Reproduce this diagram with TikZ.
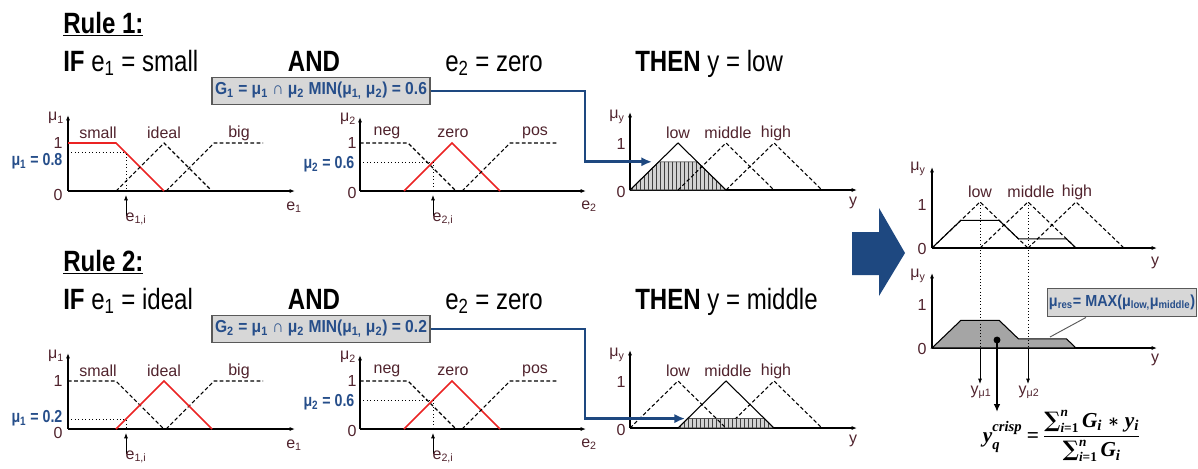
\documentclass[tikz,border=0pt]{standalone}
\usepackage[no-math]{fontspec}
\setmainfont{Liberation Sans}
\newfontfamily\narrowsf{Liberation Sans}[FakeStretch=0.82]
\newfontfamily\boxsf{Liberation Sans}[FakeStretch=0.9]
\newfontfamily\eqfont{Liberation Serif}
\newfontfamily\symfont{DejaVu Serif}
\usetikzlibrary{arrows.meta,patterns}
\definecolor{rulered}{RGB}{235,35,35}
\definecolor{inkblue}{RGB}{38,78,138}
\definecolor{arrowblue}{RGB}{30,72,128}
\definecolor{termcol}{RGB}{80,35,45}
\definecolor{boxgray}{RGB}{215,215,215}
\definecolor{resgray}{RGB}{165,165,165}
\newcommand{\sumlim}{{\symfont\bfseries ∑}\rlap{\raisebox{1.05ex}{\fontsize{10}{10}\selectfont\itshape n}}\raisebox{-0.55ex}{\fontsize{10}{10}\selectfont\itshape i\upshape =1}}
\tikzset{
  axisline/.style={line width=0.8pt,-{Latex[length=4pt,width=3pt]}},
  mf/.style={line width=0.8pt,dash pattern=on 2.8pt off 1.8pt},
  act/.style={rulered,line width=1.2pt},
  guide/.style={dotted,line width=0.6pt},
  lbl/.style={termcol,inner sep=1pt,font=\fontsize{12}{14}\selectfont},
  valtxt/.style={inkblue,inner sep=1pt,anchor=east,font=\narrowsf\bfseries\fontsize{13}{15}\selectfont},
  gbox/.style={draw=black!65,fill=boxgray,line width=0.9pt,inner sep=1pt,text=inkblue,font=\boxsf\bfseries\fontsize{13}{15}\selectfont},
  flow/.style={arrowblue,line width=2pt,-{Latex[length=8pt,width=7pt]}},
  ruletext/.style={anchor=base west,inner sep=0pt,font=\narrowsf\fontsize{22}{26}\selectfont},
  pointer/.style={line width=0.6pt,-{Latex[length=4pt,width=3pt]}},
}
\begin{document}
\begin{tikzpicture}[x=0.75pt,y=-0.75pt]
\useasboundingbox (0,0) rectangle (1198,468);
% parts that both rules share
\foreach \r/\dy in {1/0,2/238}{
\begin{scope}[shift={(0,\dy)}]
\node[ruletext,anchor=west] (title\r) at (63,24) {\bfseries\underline{Rule \r:}};
\node[ruletext,anchor=base] (and\r) at (314,71) {\bfseries AND};
\node[ruletext] (ezwo\r) at (445,71) {e\textsubscript{2} = zero};
% e1 chart
\draw[axisline] (68,191) -- (295,191);
\draw[axisline] (68,191) -- (68,115);
\node[lbl] (mua\r) at (56,118) {μ\textsubscript{1}};
\node[lbl,anchor=east] (onea\r) at (64,143) {1};
\node[lbl,anchor=east] (nulla\r) at (64,195) {0};
\node[lbl] (ea\r) at (294,207) {e\textsubscript{1}};
\node[lbl] (small\r) at (98,133) {small};
\node[lbl] (ideal\r) at (164,133) {ideal};
\node[lbl] (big\r) at (239,133) {big};
\draw[mf] (166,191) -- (214,143) -- (263,143);
\coordinate (eia\r) at (126,195);
\draw[pointer] (126,216) -- (eia\r);
\node[lbl,anchor=north west] (eilaba\r) at (124,211) {e\textsubscript{1,i}};
% e2 chart
\draw[axisline] (360,191) -- (586,191);
\draw[axisline] (360,191) -- (360,117);
\node[lbl] (mub\r) at (348,119) {μ\textsubscript{2}};
\node[lbl,anchor=east] (oneb\r) at (358,143) {1};
\node[lbl,anchor=east] (nullb\r) at (358,193) {0};
\node[lbl] (eb\r) at (589,206) {e\textsubscript{2}};
\node[lbl] (neg\r) at (387,133) {neg};
\node[lbl] (zero\r) at (453,133) {zero};
\node[lbl] (pos\r) at (535,133) {pos};
\draw[mf] (360,143) -- (408,143) -- (456,191);
\draw[act] (404,191) -- (452,143) -- (500,191);
\draw[mf] (462,191) -- (510,143) -- (558,143);
\draw[guide] (360,162.2) -- (433,162.2) -- (433,191);
\node[valtxt] (mutwo\r) at (356,164.5) {μ\textsubscript{2} = 0.6};
\coordinate (eib\r) at (433,195);
\draw[pointer] (433,216) -- (eib\r);
\node[lbl,anchor=north west] (eilabb\r) at (431,211) {e\textsubscript{2,i}};
% y chart
\draw[axisline] (630,190) -- (857,190);
\draw[axisline] (630,190) -- (630,112);
\node[lbl] (muc\r) at (617,117) {μ\textsubscript{y}};
\node[lbl,anchor=east] (onec\r) at (627,144) {1};
\node[lbl,anchor=east] (nullc\r) at (627,192) {0};
\node[lbl] (ec\r) at (853,203) {y};
\node[lbl] (low\r) at (678,133) {low};
\node[lbl] (middle\r) at (728,133) {middle};
\node[lbl] (high\r) at (776,133) {high};
\draw[mf] (726,190) -- (774,143) -- (822,190);
\end{scope}
}
% rule 1
\node[ruletext] (if1) at (63,71) {\bfseries IF \mdseries e\textsubscript{1} = small};
\node[ruletext] (then1) at (635,71) {\bfseries THEN \mdseries y = low};
\draw[act] (68,143) -- (116,143) -- (164,191);
\draw[mf] (116,191) -- (164,143) -- (212,191);
\draw[guide] (68,152.6) -- (126,152.6) -- (126,191);
\node[valtxt] (muone1) at (64,161) {μ\textsubscript{1} = 0.8};
\draw[fill=gray!35,postaction={pattern=vertical lines,pattern color=black!75}] (630,190) -- (658.8,161.8) -- (697.2,161.8) -- (726,190) -- cycle;
\draw[line width=0.8pt] (630,190) -- (678,143) -- (726,190);
\draw[mf] (678,190) -- (726,143) -- (774,190);
\node[gbox,minimum width=163.5pt,minimum height=20.5pt] (g1) at (321,91) {G\textsubscript{1} = μ\textsubscript{1} ∩ μ\textsubscript{2} MIN(μ\textsubscript{1,} μ\textsubscript{2}) = 0.6};
\coordinate (bend1) at (585,161.8);
\coordinate (tip1) at (652,161.8);
\draw[flow] (g1.east) -| (bend1) -- (tip1);
% rule 2
\begin{scope}[shift={(0,238)}]
\node[ruletext] (if2) at (63,71) {\bfseries IF \mdseries e\textsubscript{1} = ideal};
\node[ruletext] (then2) at (635,71) {\bfseries THEN \mdseries y = middle};
\draw[mf] (68,143) -- (116,143) -- (164,191);
\draw[act] (116,191) -- (164,143) -- (212,191);
\draw[guide] (68,181.4) -- (126,181.4) -- (126,191);
\node[valtxt] (muone2) at (64,180) {μ\textsubscript{1} = 0.2};
\draw[fill=gray!35,postaction={pattern=vertical lines,pattern color=black!75}] (678,190) -- (687.6,180.6) -- (764.4,180.6) -- (774,190) -- cycle;
\draw[mf] (630,190) -- (678,143) -- (726,190);
\draw[line width=0.8pt] (678,190) -- (726,143) -- (774,190);
\node[gbox,minimum width=163.5pt,minimum height=20.5pt] (g2) at (321,91) {G\textsubscript{2} = μ\textsubscript{1} ∩ μ\textsubscript{2} MIN(μ\textsubscript{1,} μ\textsubscript{2}) = 0.2};
\coordinate (bend2) at (585,180.6);
\coordinate (tip2) at (685,180.6);
\draw[flow] (g2.east) -| (bend2) -- (tip2);
\end{scope}
% big arrow
\fill[arrowblue] (852,232) -- (879,232) -- (879,208) -- (905,253) -- (879,296) -- (879,275) -- (852,275) -- cycle;
% combined output
\draw[axisline] (932,248) -- (1157,248);
\draw[axisline] (932,248) -- (932,167);
\node[lbl] (mud) at (918,169) {μ\textsubscript{y}};
\node[lbl,anchor=east] (oned) at (928,205) {1};
\node[lbl,anchor=east] (nulld) at (928,249) {0};
\node[lbl] (ed) at (1155,263) {y};
\node[lbl] (lowd) at (980,192) {low};
\node[lbl] (middled) at (1031,192) {middle};
\node[lbl] (highd) at (1077,192) {high};
\draw[mf] (932,248) -- (980,202) -- (1028,248);
\draw[mf] (980,248) -- (1028,202) -- (1076,248);
\draw[mf] (1028,248) -- (1076,202) -- (1124,248);
\draw[line width=0.8pt] (932,248) -- (960.8,220.4) -- (999.2,220.4) -- (1018.4,238.8) -- (1066.4,238.8) -- (1076,248);
\draw[axisline] (932,348) -- (1157,348);
\draw[axisline] (932,348) -- (932,273);
\node[lbl] (mue) at (918,276) {μ\textsubscript{y}};
\node[lbl,anchor=east] (onee) at (928,305) {1};
\node[lbl,anchor=east] (nulle) at (928,349) {0};
\node[lbl] (ee) at (1155,360) {y};
\draw[fill=resgray,line width=0.8pt] (932,348) -- (960.8,320.4) -- (999.2,320.4) -- (1018.4,338.8) -- (1066.4,338.8) -- (1076,348) -- cycle;
\coordinate (pk1) at (980,202);
\coordinate (pk2) at (1028,202);
\coordinate (ax1) at (980,348);
\coordinate (ax2) at (1028,348);
\draw[guide,line width=0.4pt] (pk1) -- (ax1);
\draw[guide,line width=0.4pt] (pk2) -- (ax2);
\node[lbl] (ymu1) at (981,392) {y\textsubscript{μ1}};
\node[lbl] (ymu2) at (1029,392) {y\textsubscript{μ2}};
\draw[pointer] (ax1) -- (ymu1.north -| ax1);
\draw[pointer] (ax2) -- (ymu2.north -| ax2);
\coordinate (cog) at (997,340);
\fill (cog) circle (2.6pt);
\draw[line width=1.6pt,-{Latex[length=6pt,width=5pt]}] (cog) -- (997,412);
\node[gbox,minimum width=111pt,minimum height=21.5pt,font=\boxsf\bfseries\fontsize{12}{14}\selectfont] (gres) at (1122,302.5) {μ\textsubscript{res}= MAX(μ\textsubscript{low,}μ\textsubscript{middle})};
\coordinate (resfoot) at (1050,337);
\draw[black!65,line width=0.7pt] (resfoot) -- ([xshift=-27pt]gres.south);
\node[inner sep=0pt,font=\eqfont\bfseries\fontsize{16}{18}\selectfont] (crisp) at (1061,437) {\textit{y}\rlap{\raisebox{-0.7ex}{\fontsize{11}{11}\selectfont\itshape q}}\raisebox{1.1ex}{\fontsize{11}{11}\selectfont\itshape crisp}\ =\ \setlength{\arrayrulewidth}{0.8pt}\begin{tabular}{@{}c@{}}\sumlim\,\textit{G}\textsubscript{\itshape i} {\symfont\fontsize{13}{13}\selectfont ∗} \textit{y}\textsubscript{\itshape i}\\[1pt]\hline\rule{0pt}{15pt}\sumlim\,\textit{G}\textsubscript{\itshape i}\end{tabular}};
\end{tikzpicture}
\end{document}
